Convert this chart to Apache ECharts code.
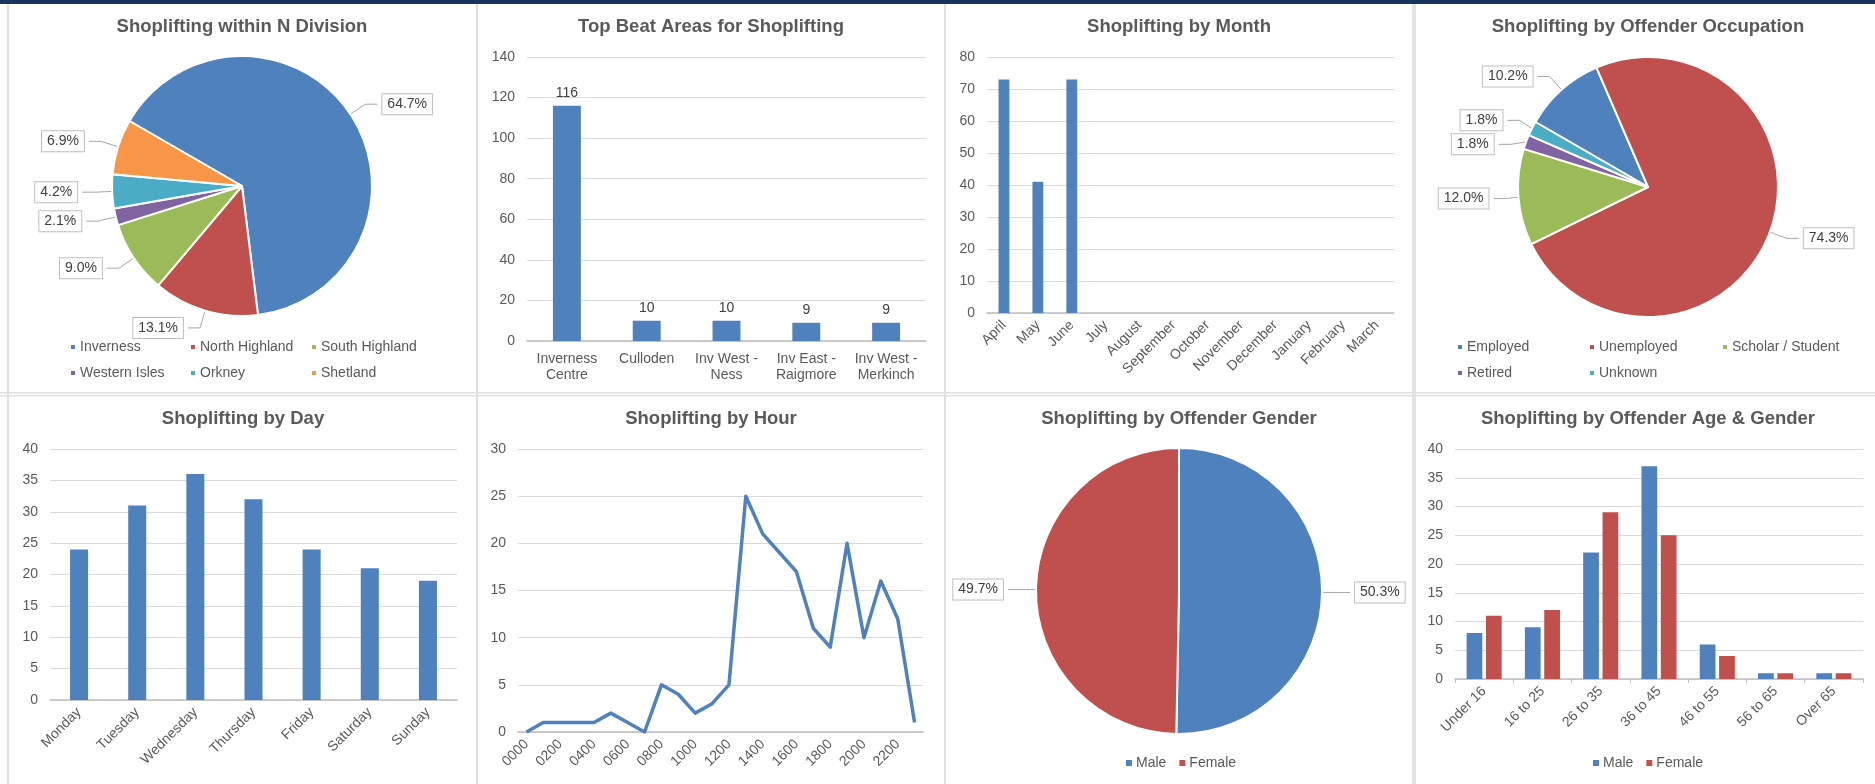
<!DOCTYPE html>
<html><head><meta charset="utf-8">
<script src="https://cdn.jsdelivr.net/npm/echarts@6/dist/echarts.min.js"></script>
<style>html,body{margin:0;padding:0;background:#fff}#c{width:1875px;height:784px}</style>
</head><body><div id="c"></div>
<script>
// ---------- data ----------
const divisionNames = ['Inverness', 'North Highland', 'South Highland', 'Western Isles', 'Orkney', 'Shetland'];
const divisionPct = [64.7, 13.1, 9.0, 2.1, 4.2, 6.9];

const beatAreas = ['Inverness\nCentre', 'Culloden', 'Inv West -\nNess', 'Inv East -\nRaigmore', 'Inv West -\nMerkinch'];
const beatCounts = [116, 10, 10, 9, 9];

const months = ['April', 'May', 'June', 'July', 'August', 'September', 'October', 'November', 'December', 'January', 'February', 'March'];
const monthCounts = [73, 41, 73, 0, 0, 0, 0, 0, 0, 0, 0, 0];

const occupationNames = ['Employed', 'Unemployed', 'Scholar / Student', 'Retired', 'Unknown'];
const occupationCounts = [17, 124, 20, 3, 3];

const days = ['Monday', 'Tuesday', 'Wednesday', 'Thursday', 'Friday', 'Saturday', 'Sunday'];
const dayCounts = [24, 31, 36, 32, 24, 21, 19];

const hours = ['0000', '0100', '0200', '0300', '0400', '0500', '0600', '0700', '0800', '0900', '1000', '1100',
  '1200', '1300', '1400', '1500', '1600', '1700', '1800', '1900', '2000', '2100', '2200', '2300'];
const hourCounts = [0, 1, 1, 1, 1, 2, 1, 0, 5, 4, 2, 3, 5, 25, 21, 19, 17, 11, 9, 20, 10, 16, 12, 1];

const genderNames = ['Male', 'Female'];
const genderCounts = [84, 83];

const ageGroups = ['Under 16', '16 to 25', '26 to 35', '36 to 45', '46 to 55', '56 to 65', 'Over 65'];
const ageMale = [8, 9, 22, 37, 6, 1, 1];
const ageFemale = [11, 12, 29, 25, 4, 1, 1];

const titles = ['Shoplifting within N Division', 'Top Beat Areas for Shoplifting', 'Shoplifting by Month',
  'Shoplifting by Offender Occupation', 'Shoplifting by Day', 'Shoplifting by Hour',
  'Shoplifting by Offender Gender', 'Shoplifting by Offender Age & Gender'];

// axis scales [max, interval]
const beatAxis = [140, 20];
const monthAxis = [80, 10];
const dayAxis = [40, 5];
const hourAxis = [30, 5];
const ageAxis = [40, 5];

// ---------- style ----------
const FONT = '"Liberation Sans", Arial, sans-serif';
const TXT = '#595959';
const C = ['#4f81bd', '#c0504d', '#9bbb59', '#8064a2', '#4bacc6', '#f79646'];

const chart = echarts.init(document.getElementById('c'));

function pctFmt(arr) {
  const total = arr.reduce((a, b) => a + b, 0);
  return p => (p.value / total * 100).toFixed(1) + '%';
}
function yAx(g, ax) {
  return { type: 'value', gridIndex: g, min: 0, max: ax[0], interval: ax[1],
    axisLine: { show: false }, axisTick: { show: false },
    splitLine: { lineStyle: { color: '#d9d9d9', width: 1 } },
    axisLabel: { color: TXT, fontSize: 14, fontFamily: FONT, margin: 12 } };
}
function xAx(g, cats, extra) {
  const base = { type: 'category', gridIndex: g, data: cats,
    axisLine: { lineStyle: { color: '#bfbfbf', width: 1.5 } }, axisTick: { show: false },
    axisLabel: { color: TXT, fontSize: 14, fontFamily: FONT, interval: 0, margin: 10 } };
  if (extra && extra.axisLabel) Object.assign(base.axisLabel, extra.axisLabel);
  if (extra && extra.axisTick) base.axisTick = extra.axisTick;
  return base;
}
function legendCol(names, left, top, orient) {
  return { data: names, left, top, orient: orient || 'vertical', itemGap: orient ? 13 : 12,
    itemWidth: 6, itemHeight: 6, icon: 'rect', padding: 0, selectedMode: false,
    textStyle: { color: TXT, fontSize: 14, fontFamily: FONT, padding: [0, 0, 0, -1] } };
}
const pieLabel = fmt => ({ show: true, position: 'outside', formatter: fmt, color: '#404040', fontSize: 14,
  fontFamily: FONT, backgroundColor: '#fff', borderColor: '#bfbfbf', borderWidth: 1, padding: [3, 5] });
const pieLine = (l1, l2) => ({ show: true, length: l1, length2: l2, lineStyle: { color: '#a6a6a6', width: 1 } });

const titlePos = [[242, 17], [711, 17], [1179, 17], [1648, 17], [243, 409], [711, 409], [1179, 409], [1648, 409]];

const option = {
  animation: false,
  textStyle: { fontFamily: FONT },
  title: titles.map((t, i) => ({ text: t, left: titlePos[i][0], top: titlePos[i][1], textAlign: 'center', padding: 0,
    textStyle: { color: TXT, fontSize: 18.5, fontWeight: 'bold', fontFamily: FONT } })),
  graphic: [
    { type: 'rect', shape: { x: 0, y: 0, width: 1875, height: 4 }, style: { fill: '#17365d' }, silent: true },
    { type: 'rect', shape: { x: 7, y: 4, width: 2, height: 780 }, style: { fill: '#e0e0e0' }, silent: true },
    { type: 'rect', shape: { x: 476, y: 4, width: 2, height: 780 }, style: { fill: '#e0e0e0' }, silent: true },
    { type: 'rect', shape: { x: 944, y: 4, width: 2, height: 780 }, style: { fill: '#e0e0e0' }, silent: true },
    { type: 'rect', shape: { x: 1412, y: 4, width: 4, height: 780 }, style: { fill: '#e3e3e3' }, silent: true },
    { type: 'rect', shape: { x: 0, y: 392, width: 1875, height: 1.5 }, style: { fill: '#e0e0e0' }, silent: true },
    { type: 'rect', shape: { x: 0, y: 395, width: 1875, height: 1.5 }, style: { fill: '#e0e0e0' }, silent: true }
  ],
  legend: [
    legendCol(['Inverness', 'Western Isles'], 69, 340),
    legendCol(['North Highland', 'Orkney'], 189, 340),
    legendCol(['South Highland', 'Shetland'], 310, 340),
    legendCol(['Employed', 'Retired'], 1456, 340),
    legendCol(['Unemployed', 'Unknown'], 1588, 340),
    legendCol(['Scholar / Student'], 1721, 340),
    legendCol(['Male', 'Female'], 1126, 756, 'horizontal'),
    legendCol(['Male', 'Female'], 1593, 756, 'horizontal')
  ],
  grid: [
    { left: 527, top: 57, width: 399, height: 284 },
    { left: 987, top: 57, width: 407, height: 256 },
    { left: 50, top: 449, width: 407, height: 251 },
    { left: 518, top: 449, width: 405, height: 283 },
    { left: 1455, top: 449, width: 408, height: 230 }
  ],
  xAxis: [
    xAx(0, beatAreas, { axisLabel: { lineHeight: 16 } }),
    xAx(1, months, { axisLabel: { rotate: 45 } }),
    xAx(2, days, { axisLabel: { rotate: 45 } }),
    xAx(3, hours, { axisLabel: { rotate: 45, interval: 1 } }),
    xAx(4, ageGroups, { axisLabel: { rotate: 45 }, axisTick: { show: true, length: 4, lineStyle: { color: '#bfbfbf' } } })
  ],
  yAxis: [yAx(0, beatAxis), yAx(1, monthAxis), yAx(2, dayAxis), yAx(3, hourAxis), yAx(4, ageAxis)],
  series: [
    { type: 'pie', name: 'Division', center: [242, 186], radius: 130, startAngle: 150, clockwise: true,
      data: divisionNames.map((n, i) => ({ name: n, value: divisionPct[i], itemStyle: { color: C[i] } })),
      itemStyle: { borderColor: '#fff', borderWidth: 2 },
      label: pieLabel(p => p.value.toFixed(1) + '%'), labelLine: pieLine(18, 12) },
    { type: 'bar', xAxisIndex: 0, yAxisIndex: 0, data: beatCounts, barWidth: '35%', itemStyle: { color: C[0] },
      label: { show: true, position: 'top', color: '#404040', fontSize: 14, fontFamily: FONT, distance: 6 } },
    { type: 'bar', xAxisIndex: 1, yAxisIndex: 1, data: monthCounts, barWidth: '32%', itemStyle: { color: C[0] } },
    { type: 'pie', name: 'Occupation', center: [1648, 187], radius: 130, startAngle: 150, clockwise: true,
      data: occupationNames.map((n, i) => ({ name: n, value: occupationCounts[i], itemStyle: { color: C[i] } })),
      itemStyle: { borderColor: '#fff', borderWidth: 2 },
      label: pieLabel(pctFmt(occupationCounts)), labelLine: pieLine(18, 12) },
    { type: 'bar', xAxisIndex: 2, yAxisIndex: 2, data: dayCounts, barWidth: '31%', itemStyle: { color: C[0] } },
    { type: 'line', xAxisIndex: 3, yAxisIndex: 3, data: hourCounts, showSymbol: false, symbol: 'none',
      lineStyle: { color: C[0], width: 3.5, join: 'round' }, itemStyle: { color: C[0] } },
    { type: 'pie', name: 'Gender', center: [1179, 591], radius: 143, startAngle: 90, clockwise: true,
      data: genderNames.map((n, i) => ({ name: n, value: genderCounts[i], itemStyle: { color: C[i] } })),
      itemStyle: { borderColor: '#fff', borderWidth: 2 },
      label: pieLabel(pctFmt(genderCounts)), labelLine: pieLine(14, 14) },
    { type: 'bar', name: 'Male', xAxisIndex: 4, yAxisIndex: 4, data: ageMale, barWidth: '27%', barGap: '23%', itemStyle: { color: C[0] } },
    { type: 'bar', name: 'Female', xAxisIndex: 4, yAxisIndex: 4, data: ageFemale, barWidth: '27%', barGap: '23%', itemStyle: { color: C[1] } }
  ]
};
chart.setOption(option);
</script></body></html>
